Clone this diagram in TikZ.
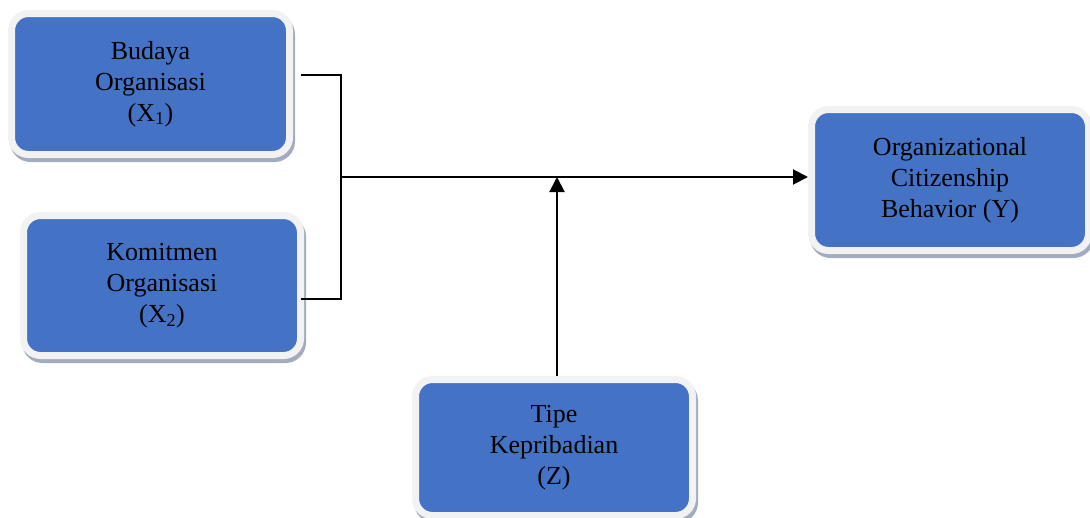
\documentclass[tikz,border=0pt]{standalone}
\usepackage{fontspec}
\setmainfont{Liberation Serif}
\usetikzlibrary{arrows.meta,shadows}
\definecolor{boxblue}{HTML}{4472C4}
\definecolor{rimgray}{HTML}{F2F2F2}
\definecolor{shadegray}{HTML}{A3ACBF}
\begin{document}
\begin{tikzpicture}[x=1pt,y=-1pt,
  varbox/.style={rectangle, rounded corners=17pt, fill=boxblue, draw=rimgray,
    line width=7pt, align=center, inner sep=0pt,
    font=\fontsize{26}{31}\selectfont,
    drop shadow={shadow xshift=2pt, shadow yshift=-4pt, fill=shadegray,
      draw=shadegray, line width=7pt, opacity=1}},
  conn/.style={draw=black, line width=2pt},
  tipped/.style={-{Triangle[length=15pt,width=15pt]}}]
\useasboundingbox (0,0) rectangle (1090,517);
\node[varbox, minimum width=278pt, minimum height=141pt] (b1) at (150.5,84)
  {Budaya\\Organisasi\\(X\textsubscript{1})};
\node[varbox, minimum width=277pt, minimum height=140pt] (b2) at (162,285.5)
  {Komitmen\\Organisasi\\(X\textsubscript{2})};
\node[varbox, minimum width=277pt, minimum height=136pt] (b3) at (554,447.5)
  {Tipe\\Kepribadian\\(Z)};
\node[varbox, minimum width=277pt, minimum height=141pt] (b4) at (950,180)
  {Organizational\\Citizenship\\Behavior (Y)};
\coordinate (s1) at (301,75);
\coordinate (j1) at (341,75);
\coordinate (s2) at (301,299);
\coordinate (j2) at (341,299);
\coordinate (jm) at (341,177);
\coordinate (tip) at (557,177);
\draw[conn] (s1) -- (j1) -- (j2) -- (s2);
\draw[conn,tipped] (jm) -- (b4.west |- jm);
\draw[conn,tipped] (b3.north -| tip) -- (tip);
\end{tikzpicture}
\end{document}
